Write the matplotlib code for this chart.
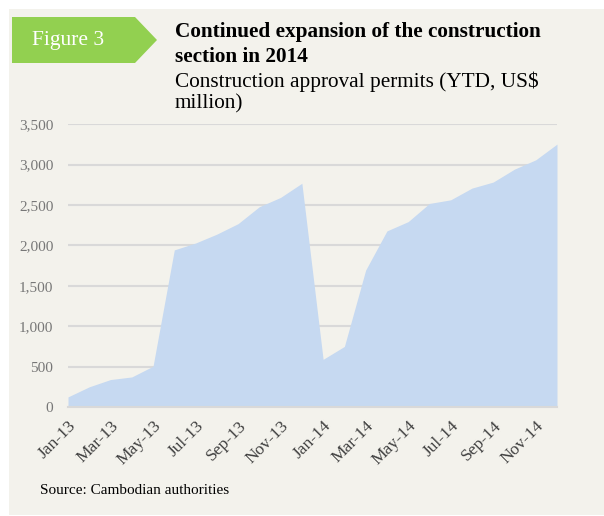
import matplotlib
matplotlib.use("Agg")
import matplotlib.pyplot as plt
from matplotlib.patches import Rectangle, Polygon

months = ["Jan-13", "Feb-13", "Mar-13", "Apr-13", "May-13", "Jun-13",
          "Jul-13", "Aug-13", "Sep-13", "Oct-13", "Nov-13", "Dec-13",
          "Jan-14", "Feb-14", "Mar-14", "Apr-14", "May-14", "Jun-14",
          "Jul-14", "Aug-14", "Sep-14", "Oct-14", "Nov-14", "Dec-14"]
permits = [125, 250, 340, 372, 505, 1945, 2030, 2140, 2270, 2480, 2595, 2770,
           590, 750, 1695, 2180, 2295, 2520, 2565, 2710, 2785, 2945, 3060, 3255]
y_ticks = [0, 500, 1000, 1500, 2000, 2500, 3000, 3500]

SERIF = ["Liberation Serif", "DejaVu Serif"]
PANEL = "#F3F2EC"
FILL = "#C6D9F1"
GRID = "#D9D9D9"

fig = plt.figure(figsize=(6.04, 5.16), dpi=100)
fig.patch.set_facecolor("white")
W, H = 604, 516


def fx(px):
    return px / W


def fy(py):
    return 1 - py / H


# beige panel and green "Figure 3" tag
fig.patches.append(Rectangle((fx(9), fy(515)), 1 - fx(9), fy(9) - fy(515),
                             transform=fig.transFigure, facecolor=PANEL,
                             edgecolor="none", zorder=0))
tag = [(fx(12), fy(17)), (fx(135), fy(17)), (fx(157), fy(40)),
       (fx(135), fy(63)), (fx(12), fy(63))]
fig.patches.append(Polygon(tag, closed=True, transform=fig.transFigure,
                           facecolor="#92D050", edgecolor="none", zorder=1))
fig.text(fx(32), fy(40), "Figure 3", color="white", fontsize=15.5,
         family=SERIF, va="center", ha="left")

fig.text(fx(175), fy(32), "Continued expansion of the construction",
         fontsize=15.3, weight="bold", family=SERIF, va="center")
fig.text(fx(175), fy(57), "section in 2014",
         fontsize=15.3, weight="bold", family=SERIF, va="center")
fig.text(fx(175), fy(82), "Construction approval permits (YTD, US$",
         fontsize=15.3, family=SERIF, va="center")
fig.text(fx(175), fy(104), "million)",
         fontsize=15.3, family=SERIF, va="center")
fig.text(fx(40), fy(490), "Source: Cambodian authorities",
         fontsize=11, family=SERIF, va="center")

ax = fig.add_axes([fx(68), fy(407), fx(557) - fx(68), fy(124.3) - fy(407)])
ax.set_zorder(3)
ax.set_facecolor("none")
x = list(range(len(months)))
ax.fill_between(x, permits, 0, color=FILL, linewidth=0, zorder=2)
ax.set_xlim(0, len(months) - 1)
ax.set_ylim(0, 3500)
ax.set_yticks(y_ticks)
ax.set_yticklabels([f"{v:,}" for v in y_ticks], family=SERIF, fontsize=11,
                   color="#777777")
ax.yaxis.grid(True, color=GRID, linewidth=1.5, zorder=1)
ax.set_axisbelow(True)
for s in ["top", "right", "left"]:
    ax.spines[s].set_visible(False)
ax.spines["bottom"].set_color(GRID)
ax.spines["bottom"].set_linewidth(1.5)
ax.tick_params(axis="both", length=0)
ax.tick_params(axis="y", pad=10.5)

ax.set_xticks(x[::2])
ax.set_xticklabels(months[::2], rotation=45, ha="right", va="top",
                   rotation_mode="anchor", family=SERIF, fontsize=12.5,
                   color="#404040")
ax.tick_params(axis="x", pad=8)

fig.savefig("out.png", dpi=100, facecolor=fig.get_facecolor())
